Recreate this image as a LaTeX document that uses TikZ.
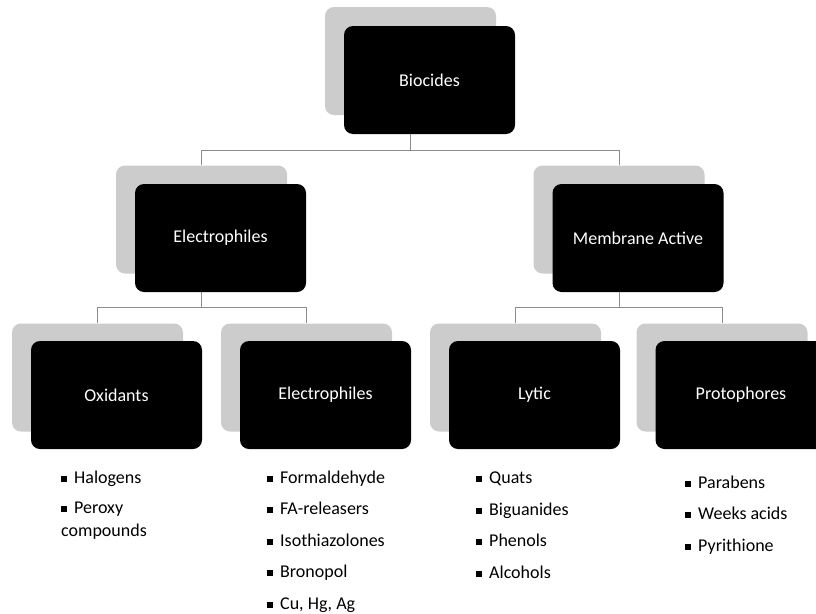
\documentclass[tikz,border=0pt]{standalone}
\usepackage{fontspec}
\setmainfont{Carlito}
\newcommand{\sqb}{\rule[1.5pt]{6pt}{6pt}\hspace{7pt}}
\begin{document}
\begin{tikzpicture}[x=1pt,y=-1pt,
  back/.style={fill=gray!40, rounded corners=9pt, minimum width=171pt, minimum height=108pt, inner sep=0pt},
  front/.style={back, fill=black, text=white, font=\fontsize{18}{22}\selectfont},
  link/.style={draw=gray!90, line width=0.6pt},
  list/.style={anchor=base west, align=left, inner sep=0pt, font=\fontsize{18}{23}\selectfont}]
\useasboundingbox (0,0) rectangle (816,613);
% top level
\node[back] (bioS) at (410.5,61) {};
\node[front] (bio) at (429.5,80) {Biocides};
% second level
\node[back] (elS) at (201.5,219.5) {};
\node[front] (el) at (220.5,238) {Electrophiles};
\node[back] (memS) at (619,219.5) {};
\node[front] (mem) at (638,238) {Membrane Active};
% third level
\node[back] (oxS) at (97.5,377.5) {};
\node[front] (ox) at (116.5,395) {Oxidants};
\node[back] (ephS) at (306.5,377.5) {};
\node[front] (eph) at (325.5,395) {Electrophiles};
\node[back] (lytS) at (515.5,377.5) {};
\node[front] (lyt) at (534.5,395) {Lytic};
\node[back] (proS) at (722,377.5) {};
\node[front] (pro) at (741,395) {Protophores};
% connectors
\draw[link] (bioS.north |- bio.south) -- ++(0,16) coordinate (j1);
\draw[link] (elS.north) |- (j1) -| (memS.north);
\draw[link] (elS.north |- el.south) -- ++(0,15) coordinate (j2);
\draw[link] (oxS.north) |- (j2) -| (ephS.north);
\draw[link] (memS.north |- mem.south) -- ++(0,15) coordinate (j3);
\draw[link] (lytS.north) |- (j3) -| (proS.north);
% lists (anchored at the last line)
\node[list] (oxL) at (61,536) {\sqb Halogens\\[7pt]\sqb Peroxy\\compounds};
\node[list] (ephL) at (267,609) {\sqb Formaldehyde\\[8.5pt]\sqb FA-releasers\\[8.5pt]\sqb Isothiazolones\\[8.5pt]\sqb Bronopol\\[8.5pt]\sqb Cu, Hg, Ag};
\node[list] (lytL) at (476,578) {\sqb Quats\\[8.5pt]\sqb Biguanides\\[8.5pt]\sqb Phenols\\[8.5pt]\sqb Alcohols};
\node[list] (proL) at (685,551) {\sqb Parabens\\[8.5pt]\sqb Weeks acids\\[8.5pt]\sqb Pyrithione};
\end{tikzpicture}
\end{document}
